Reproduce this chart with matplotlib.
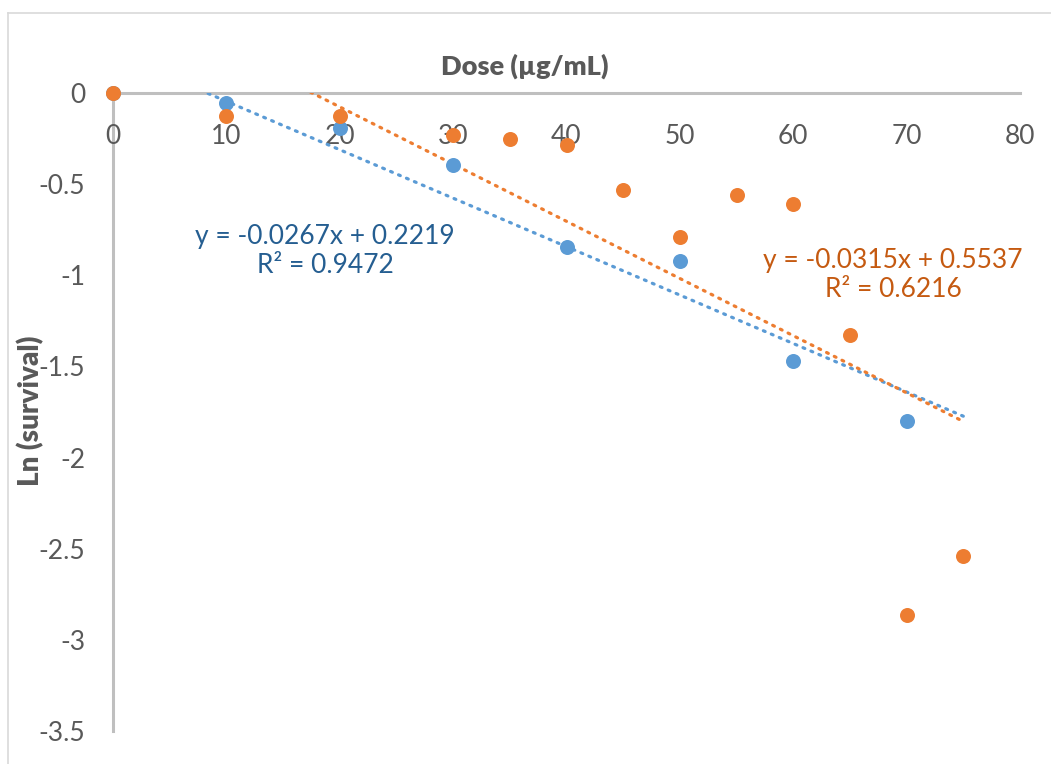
import matplotlib
matplotlib.use("Agg")
import matplotlib.pyplot as plt
from matplotlib.lines import Line2D
import numpy as np

plt.rcParams['font.family'] = ['Lato', 'DejaVu Sans']

# blue series
dose_a = [0, 10, 20, 30, 40, 50, 60, 70]
ln_a = [0, -0.055, -0.19, -0.395, -0.846, -0.923, -1.47, -1.80]

# orange series
dose_b = [0, 10, 20, 30, 35, 40, 45, 50, 55, 60, 65, 70, 75]
ln_b = [0, -0.126, -0.126, -0.23, -0.253, -0.286, -0.533, -0.791, -0.56, -0.61,
        -1.33, -2.863, -2.54]

label_a = "y = -0.0267x + 0.2219\nR² = 0.9472"
label_b = "y = -0.0315x + 0.5537\nR² = 0.6216"

x_ticks = [0, 10, 20, 30, 40, 50, 60, 70, 80]
y_ticks = [0, -0.5, -1, -1.5, -2, -2.5, -3, -3.5]

blue = '#5B9BD5'
orange = '#ED7D31'
grey_txt = '#595959'
axis_col = '#BFBFBF'

fig = plt.figure(figsize=(10.51, 7.64), dpi=100)
ax = fig.add_axes([113/1051, 1-731/764, (1020-113)/1051, (731-93)/764])

# trendlines (fit from data, projected out to 75)
xs = np.array([0, 75])
for dx, dy, c in [(dose_a, ln_a, blue), (dose_b, ln_b, orange)]:
    k, b = np.polyfit(dx, dy, 1)
    ax.plot(xs, k*xs + b, color=c, lw=2.3, linestyle=(0, (0.6, 2.1)),
            dash_capstyle='round', zorder=2)

ax.plot(dose_a, ln_a, 'o', color=blue, ms=10.8, mec='none', clip_on=False, zorder=3)
ax.plot(dose_b, ln_b, 'o', color=orange, ms=10.8, mec='none', clip_on=False, zorder=4)

ax.set_xlim(0, 80)
ax.set_ylim(-3.5, 0)
ax.set_xticks(x_ticks)
ax.set_yticks(y_ticks)
ax.set_xticklabels([str(t) for t in x_ticks])
ax.set_yticklabels(['0', '-0.5', '-1', '-1.5', '-2', '-2.5', '-3', '-3.5'])

for s in ['top', 'right']:
    ax.spines[s].set_visible(False)
ax.spines['bottom'].set_position(('data', 0))
for s in ['left', 'bottom']:
    ax.spines[s].set_color(axis_col)
    ax.spines[s].set_linewidth(2.2)
    ax.spines[s].set_zorder(1)
ax.tick_params(axis='x', length=0, pad=22, labelsize=19, labelcolor=grey_txt)
ax.tick_params(axis='y', length=0, pad=20, labelsize=19, labelcolor=grey_txt)
ax.patch.set_visible(False)

fig.text(525/1051, 1-66/764, 'Dose (µg/mL)', ha='center', va='center',
         fontsize=19.5, fontweight='heavy', color=grey_txt)
fig.text(31/1051, 1-411/764, 'Ln (survival)', ha='center', va='center',
         rotation=90, fontsize=20, fontweight='heavy', color=grey_txt)

ax.text(18.7, -0.867, label_a, ha='center', va='center', multialignment='center',
        fontsize=19, color='#255E91')
ax.text(68.8, -0.998, label_b, ha='center', va='center', multialignment='center',
        fontsize=19, color='#C55A11')

# chart border (only left and top edges are inside the crop)
fig.add_artist(Line2D([8/1051, 8/1051], [0, 1-13/764], color='#D9D9D9', lw=1.2))
fig.add_artist(Line2D([8/1051, 1], [1-13/764, 1-13/764], color='#D9D9D9', lw=1.2))

fig.savefig('out.png', dpi=100)
